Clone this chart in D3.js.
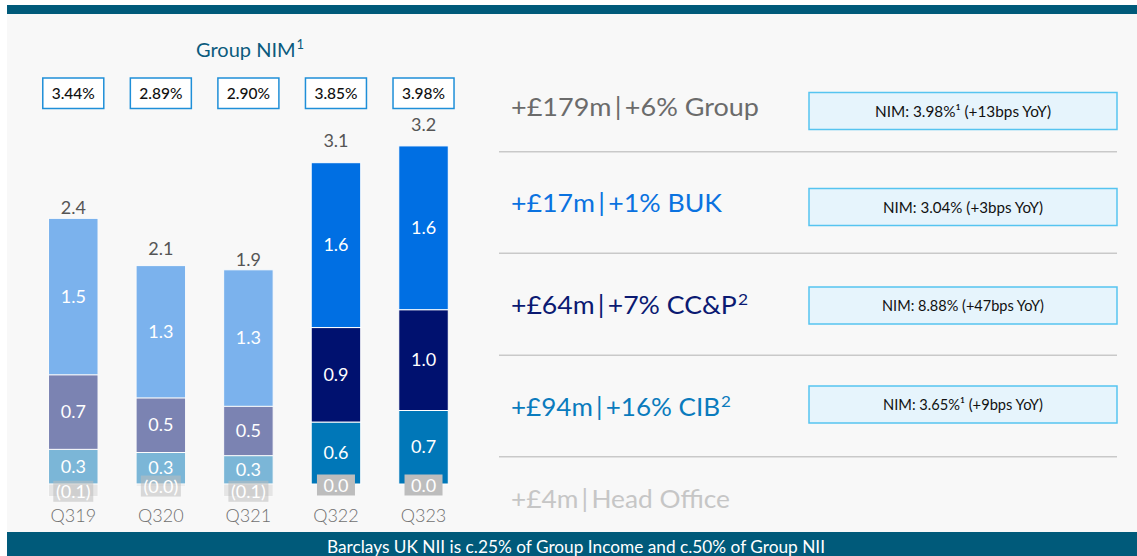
<!DOCTYPE html>
<html>
<head>
<meta charset="utf-8">
<script src="https://cdn.jsdelivr.net/npm/d3@7"></script>
<style>
  html, body { margin: 0; padding: 0; background: #ffffff; }
  svg { display: block; }
  text { font-family: Lato, "Open Sans", sans-serif; }
</style>
</head>
<body>
<svg id="chart" width="1137" height="556"></svg>
<script>
// ---------------- DATA ----------------
const quarters = ["Q319", "Q320", "Q321", "Q322", "Q323"];
const cib      = [0.33, 0.30, 0.27, 0.59, 0.70];
const ccp      = [0.71, 0.52, 0.47, 0.90, 0.96];
const buk      = [1.49, 1.26, 1.30, 1.57, 1.56];
const headOffice = [-0.12, -0.02, -0.12, 0.00, 0.00];
const groupNim = ["3.44%", "2.89%", "2.90%", "3.85%", "3.98%"];

const panelAmounts = ["+£179m", "+£17m", "+£64m", "+£94m", "+£4m"];
const panelLabels  = ["+6% Group", "+1% BUK", "+7% CC&P", "+16% CIB", "Head Office"];
const panelSup     = ["", "", "2", "2", ""];
const panelNim     = ["NIM: 3.98%¹ (+13bps YoY)", "NIM: 3.04% (+3bps YoY)", "NIM: 8.88% (+47bps YoY)", "NIM: 3.65%¹ (+9bps YoY)", ""];

const titleText = "Group NIM";
const titleSup = "1";
const bannerText = "Barclays UK NII is c.25% of Group Income and c.50% of Group NII";

// ---------------- STYLE ----------------
const colors = { cib: "#0077b8", ccp: "#00116f", buk: "#006fe3", ho: "#c2c2c2" };
const panelColors = ["#6b6b6b", "#0a72e0", "#0b1a72", "#0a7bbd", "#c6c6c6"];
const panelWidths = [248, 211, 237, 220, 219];
const nimWidths = [176, 160, 162, 160];
const totalGap = [4, 11, 4, 16, 15];
const teal = "#005a7a";
const W = 1137, H = 556;

const svg = d3.select("#chart");

// background
svg.append("rect").attr("x", 7).attr("y", 14).attr("width", W - 7).attr("height", 518).attr("fill", "#f8f8f8");
svg.append("rect").attr("x", 7).attr("y", 5).attr("width", W - 7).attr("height", 9).attr("fill", teal);
svg.append("rect").attr("x", 7).attr("y", 532).attr("width", W - 7).attr("height", 24).attr("fill", teal);
svg.append("text").attr("x", 327).attr("y", 553)
  .attr("fill", "#ffffff").attr("font-size", 17.5)
  .attr("textLength", 498).attr("lengthAdjust", "spacingAndGlyphs")
  .text(bannerText);

// scales
const x = d3.scaleBand().domain(quarters).range([29.5, 467.3]).paddingInner(0.4346).paddingOuter(0.2173);
const y = d3.scaleLinear().domain([0, 3.5]).range([484, 484 - 3.5 * 105]);

// stacked data
const rows = quarters.map((q, i) => ({ q, cib: cib[i], ccp: ccp[i], buk: buk[i], ho: headOffice[i], i }));
const stack = d3.stack().keys(["cib", "ccp", "buk", "ho"]).offset(d3.stackOffsetDiverging);
const series = stack(rows);
const fmt = d3.format(".1f");
const isOld = i => i < 3;

const gBars = svg.append("g");
series.forEach(s => {
  s.forEach(d => {
    const i = d.data.i;
    const y0 = y(d[0]), y1 = y(d[1]);
    const top = Math.min(y0, y1), h = Math.abs(y1 - y0);
    gBars.append("rect")
      .attr("x", x(d.data.q)).attr("width", x.bandwidth())
      .attr("y", top).attr("height", h)
      .attr("fill", colors[s.key])
      .attr("opacity", isOld(i) ? (s.key === "ho" ? 0.35 : 0.5) : 1)
      .attr("stroke", "#ffffff").attr("stroke-width", h > 0 ? 1 : 0);
  });
});

// segment labels
series.forEach(s => {
  s.forEach(d => {
    const i = d.data.i;
    const v = d.data[s.key];
    const cx = x(d.data.q) + x.bandwidth() / 2;
    const cy = (y(d[0]) + y(d[1])) / 2;
    if (s.key === "ho") {
      const label = v < 0 ? "(" + fmt(Math.abs(v)) + ")" : fmt(v);
      const bw = v < 0 ? 40 : 38, bh = 21;
      svg.append("rect").attr("x", cx - bw / 2).attr("y", cy - bh / 2 + 1).attr("width", bw).attr("height", bh)
        .attr("fill", "#bdbdbd").attr("opacity", isOld(i) ? 0.55 : 1);
      svg.append("text").attr("x", cx).attr("y", cy + 7.5).attr("text-anchor", "middle")
        .attr("fill", "#ffffff").attr("font-size", 18).text(label);
    } else {
      svg.append("text").attr("x", cx).attr("y", cy + 6).attr("text-anchor", "middle")
        .attr("fill", "#ffffff").attr("font-size", 18).text(fmt(v));
    }
  });
});

// totals
rows.forEach(r => {
  const total = r.cib + r.ccp + r.buk + r.ho;
  const posTop = r.cib + r.ccp + r.buk + Math.max(0, r.ho);
  svg.append("text").attr("x", x(r.q) + x.bandwidth() / 2).attr("y", y(posTop) - totalGap[r.i])
    .attr("text-anchor", "middle").attr("fill", "#555555").attr("font-size", 18).text(fmt(total));
});

// x axis (category labels)
const xAxis = d3.axisBottom(x).tickSize(0).tickPadding(0);
const gx = svg.append("g").attr("transform", "translate(0,509)").call(xAxis);
gx.select(".domain").remove();
gx.selectAll("text").attr("font-size", 18).attr("fill", "#707070").attr("font-family", "Lato, sans-serif").attr("dy", "0.71em")
  .attr("font-weight", 300);

// Group NIM title and boxes
const title = svg.append("text").attr("x", 196).attr("y", 57)
  .attr("fill", "#0b5b7d").attr("font-size", 20);
title.append("tspan").text(titleText);
title.append("tspan").attr("dx", 1).attr("dy", -8).attr("font-size", 13).text(titleSup);
quarters.forEach((q, i) => {
  const cx = x(q) + x.bandwidth() / 2;
  svg.append("rect").attr("x", cx - 30.5).attr("y", 78).attr("width", 61).attr("height", 30.5)
    .attr("fill", "#ffffff").attr("stroke", "#1f8fd8").attr("stroke-width", 1.5);
  svg.append("text").attr("x", cx).attr("y", 99).attr("text-anchor", "middle")
    .attr("fill", "#111111").attr("font-size", 15.5).attr("font-weight", 500).text(groupNim[i]);
});

// right panel
const rowY = [115.5, 211.5, 314, 415.5, 508];
const boxY = [92.5, 188.5, 287, 386, 0];
const sepY = [151.7, 253.3, 355.3, 456.7];
sepY.forEach(yy => {
  svg.append("line").attr("x1", 499).attr("x2", 1117).attr("y1", yy).attr("y2", yy)
    .attr("stroke", "#c9c9c9").attr("stroke-width", 1.5);
});
panelAmounts.forEach((amt, i) => {
  const t = svg.append("text").attr("x", 511).attr("y", rowY[i]).attr("fill", panelColors[i])
    .attr("font-size", 24.5).attr("font-weight", 400)
    .attr("textLength", panelWidths[i]).attr("lengthAdjust", "spacingAndGlyphs");
  t.append("tspan").text(amt);
  t.append("tspan").attr("dx", 3).text("|");
  t.append("tspan").attr("dx", 3).text(panelLabels[i]);
  if (panelSup[i]) t.append("tspan").attr("dx", 1).attr("dy", -9).attr("font-size", 16).text(panelSup[i]);
  if (panelNim[i]) {
    svg.append("rect").attr("x", 809).attr("y", boxY[i]).attr("width", 308).attr("height", 37)
      .attr("fill", "#e6f4fc").attr("stroke", "#56c4f0").attr("stroke-width", 1.5);
    svg.append("text").attr("x", 963).attr("y", boxY[i] + 24).attr("text-anchor", "middle")
      .attr("fill", "#111111").attr("font-size", 15.5)
      .attr("textLength", nimWidths[i]).attr("lengthAdjust", "spacingAndGlyphs")
      .text(panelNim[i]);
  }
});
</script>
</body>
</html>
